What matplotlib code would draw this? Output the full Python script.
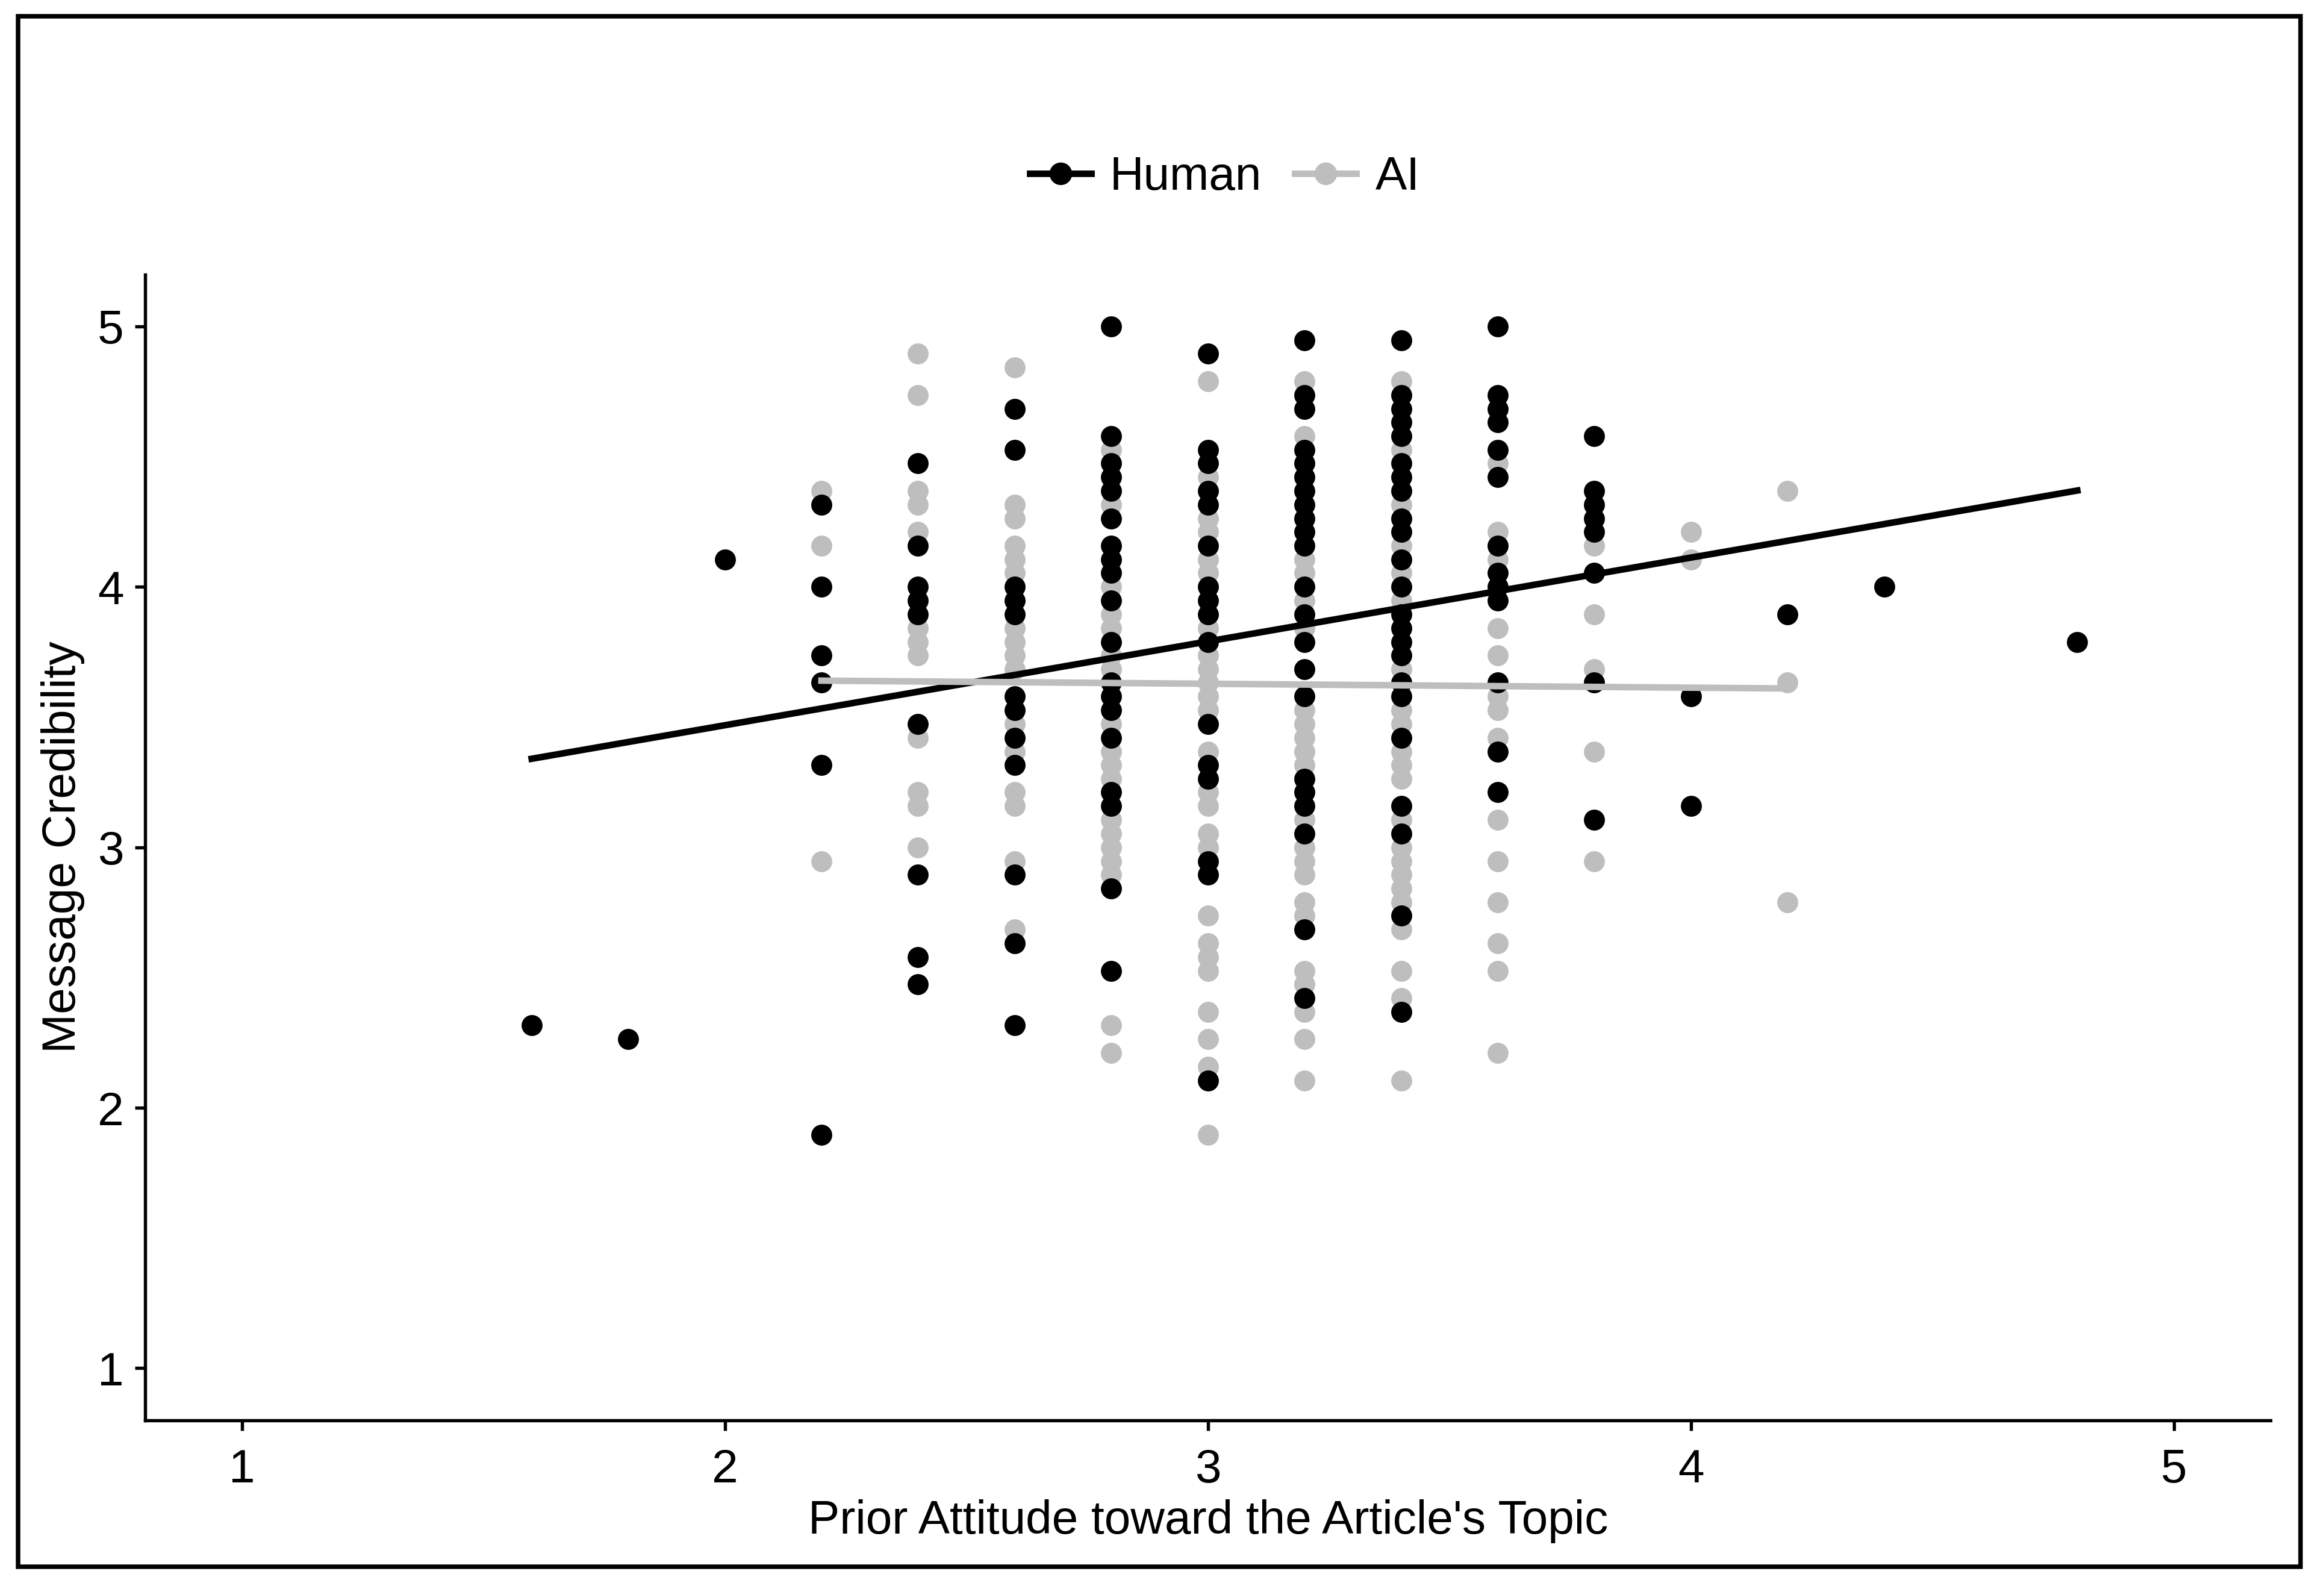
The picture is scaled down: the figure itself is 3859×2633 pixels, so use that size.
import matplotlib.pyplot as plt
from matplotlib.lines import Line2D
from matplotlib.patches import Rectangle

plt.rcParams['font.family'] = ['Liberation Sans', 'DejaVu Sans']

# Human condition: prior attitude (x) and message credibility (y)
human_x = [1.6, 1.8, 2.0,
           2.2, 2.2, 2.2, 2.2, 2.2, 2.2,
           2.4, 2.4, 2.4, 2.4, 2.4, 2.4, 2.4, 2.4, 2.4,
           2.6, 2.6, 2.6, 2.6, 2.6, 2.6, 2.6, 2.6, 2.6, 2.6, 2.6, 2.6,
           2.8, 2.8, 2.8, 2.8, 2.8, 2.8, 2.8, 2.8, 2.8, 2.8, 2.8, 2.8, 2.8, 2.8, 2.8, 2.8, 2.8, 2.8, 2.8,
           3.0, 3.0, 3.0, 3.0, 3.0, 3.0, 3.0, 3.0, 3.0, 3.0, 3.0, 3.0, 3.0, 3.0, 3.0, 3.0,
           3.2, 3.2, 3.2, 3.2, 3.2, 3.2, 3.2, 3.2, 3.2, 3.2, 3.2, 3.2, 3.2, 3.2, 3.2, 3.2, 3.2, 3.2, 3.2, 3.2, 3.2, 3.2,
           3.4, 3.4, 3.4, 3.4, 3.4, 3.4, 3.4, 3.4, 3.4, 3.4, 3.4, 3.4, 3.4, 3.4, 3.4, 3.4, 3.4, 3.4, 3.4, 3.4, 3.4, 3.4, 3.4,
           3.6, 3.6, 3.6, 3.6, 3.6, 3.6, 3.6, 3.6, 3.6, 3.6, 3.6, 3.6, 3.6,
           3.8, 3.8, 3.8, 3.8, 3.8, 3.8, 3.8, 3.8,
           4.0, 4.0, 4.2, 4.4, 4.8]
human_y = [2.316, 2.263, 4.105,
           4.316, 4.0, 3.737, 3.632, 3.316, 1.895,
           4.474, 4.158, 4.0, 3.947, 3.895, 3.474, 2.895, 2.579, 2.474,
           4.684, 4.526, 4.0, 3.947, 3.895, 3.579, 3.526, 3.421, 3.316, 2.895, 2.632, 2.316,
           5.0, 4.579, 4.474, 4.421, 4.368, 4.263, 4.158, 4.105, 4.053, 3.947, 3.789, 3.632, 3.579, 3.526, 3.421, 3.211, 3.158, 2.842, 2.526,
           4.895, 4.526, 4.474, 4.368, 4.316, 4.158, 4.0, 3.947, 3.895, 3.789, 3.474, 3.316, 3.263, 2.947, 2.895, 2.105,
           4.947, 4.737, 4.684, 4.526, 4.474, 4.421, 4.368, 4.316, 4.263, 4.211, 4.158, 4.0, 3.895, 3.789, 3.684, 3.579, 3.263, 3.211, 3.158, 3.053, 2.684, 2.421,
           4.947, 4.737, 4.684, 4.632, 4.579, 4.474, 4.421, 4.368, 4.263, 4.211, 4.105, 4.0, 3.895, 3.842, 3.789, 3.737, 3.632, 3.579, 3.421, 3.158, 3.053, 2.737, 2.368,
           5.0, 4.737, 4.684, 4.632, 4.526, 4.421, 4.158, 4.053, 4.0, 3.947, 3.632, 3.368, 3.211,
           4.579, 4.368, 4.316, 4.263, 4.211, 4.053, 3.632, 3.105,
           3.579, 3.158, 3.895, 4.0, 3.789]

# AI condition
ai_x = [2.2, 2.2, 2.2,
        2.4, 2.4, 2.4, 2.4, 2.4, 2.4, 2.4, 2.4, 2.4, 2.4, 2.4, 2.4,
        2.6, 2.6, 2.6, 2.6, 2.6, 2.6, 2.6, 2.6, 2.6, 2.6, 2.6, 2.6, 2.6, 2.6, 2.6, 2.6,
        2.8, 2.8, 2.8, 2.8, 2.8, 2.8, 2.8, 2.8, 2.8, 2.8, 2.8, 2.8, 2.8, 2.8, 2.8, 2.8, 2.8, 2.8,
        3.0, 3.0, 3.0, 3.0, 3.0, 3.0, 3.0, 3.0, 3.0, 3.0, 3.0, 3.0, 3.0, 3.0, 3.0, 3.0, 3.0, 3.0, 3.0, 3.0, 3.0, 3.0, 3.0, 3.0, 3.0,
        3.2, 3.2, 3.2, 3.2, 3.2, 3.2, 3.2, 3.2, 3.2, 3.2, 3.2, 3.2, 3.2, 3.2, 3.2, 3.2, 3.2, 3.2, 3.2, 3.2, 3.2, 3.2,
        3.4, 3.4, 3.4, 3.4, 3.4, 3.4, 3.4, 3.4, 3.4, 3.4, 3.4, 3.4, 3.4, 3.4, 3.4, 3.4, 3.4, 3.4, 3.4, 3.4, 3.4, 3.4,
        3.6, 3.6, 3.6, 3.6, 3.6, 3.6, 3.6, 3.6, 3.6, 3.6, 3.6, 3.6, 3.6, 3.6, 3.6,
        3.8, 3.8, 3.8, 3.8, 3.8, 3.8,
        4.0, 4.0,
        4.2, 4.2, 4.2]
ai_y = [4.368, 4.158, 2.947,
        4.895, 4.737, 4.368, 4.316, 4.211, 3.842, 3.789, 3.737, 3.421, 3.211, 3.158, 3.0,
        4.842, 4.316, 4.263, 4.158, 4.105, 4.053, 3.842, 3.789, 3.737, 3.684, 3.474, 3.368, 3.211, 3.158, 2.947, 2.684,
        4.526, 4.316, 4.0, 3.895, 3.842, 3.737, 3.684, 3.474, 3.368, 3.316, 3.263, 3.105, 3.053, 3.0, 2.947, 2.895, 2.316, 2.211,
        4.789, 4.421, 4.263, 4.211, 4.105, 4.053, 3.842, 3.737, 3.684, 3.632, 3.579, 3.526, 3.368, 3.211, 3.158, 3.053, 3.0, 2.737, 2.632, 2.579, 2.526, 2.368, 2.263, 2.158, 1.895,
        4.789, 4.579, 4.105, 4.053, 3.947, 3.842, 3.526, 3.474, 3.421, 3.368, 3.316, 3.105, 3.0, 2.947, 2.895, 2.789, 2.737, 2.526, 2.474, 2.368, 2.263, 2.105,
        4.789, 4.526, 4.316, 4.158, 4.053, 3.947, 3.684, 3.526, 3.474, 3.368, 3.316, 3.263, 3.105, 3.0, 2.947, 2.895, 2.842, 2.789, 2.684, 2.526, 2.421, 2.105,
        4.474, 4.211, 4.158, 4.105, 3.842, 3.737, 3.579, 3.526, 3.421, 3.105, 2.947, 2.789, 2.632, 2.526, 2.211,
        4.158, 3.895, 3.684, 3.632, 3.368, 2.947,
        4.211, 4.105,
        4.368, 3.632, 2.789]

# fitted regression lines (endpoints)
human_fit_x = [1.6, 4.8]
human_fit_y = [3.34, 4.37]
ai_fit_x = [2.2, 4.2]
ai_fit_y = [3.64, 3.61]

human_col = 'black'
ai_col = '#BEBEBE'
fs = 18.8

fig = plt.figure(figsize=(3859 / 300, 2633 / 300), dpi=300)
ax = fig.add_axes([0.0625, 0.1045, 0.9145, 0.7225])

ax.scatter(ai_x, ai_y, s=70, color=ai_col, linewidths=0, zorder=2)
ax.scatter(human_x, human_y, s=70, color=human_col, linewidths=0, zorder=3)
ax.plot(human_fit_x, human_fit_y, color=human_col, lw=2.6, zorder=4)
ax.plot(ai_fit_x, ai_fit_y, color=ai_col, lw=2.6, zorder=4)

ax.set_xlim(0.8, 5.2)
ax.set_ylim(0.8, 5.2)
ax.set_xticks([1, 2, 3, 4, 5])
ax.set_yticks([1, 2, 3, 4, 5])
for side in ['top', 'right']:
    ax.spines[side].set_visible(False)
for side in ['left', 'bottom']:
    ax.spines[side].set_linewidth(1.3)
ax.tick_params(labelsize=fs, width=1.3, length=4, color='black')
ax.tick_params(axis='x', pad=7)
ax.tick_params(axis='y', pad=4.5)
ax.set_xlabel("Prior Attitude toward the Article's Topic", fontsize=fs, labelpad=3)
ax.set_ylabel('Message Credibility', fontsize=fs, labelpad=5)

handles = [Line2D([], [], color=human_col, lw=2.6, marker='o', markersize=8),
           Line2D([], [], color=ai_col, lw=2.6, marker='o', markersize=8)]
fig.legend(handles, ['Human', 'AI'], loc='center', bbox_to_anchor=(0.527, 0.888),
           ncol=2, frameon=False, fontsize=fs, handlelength=1.3, handletextpad=0.4,
           columnspacing=0.7)

fig.patches.append(Rectangle((0.0078, 0.012), 0.982, 0.9776, transform=fig.transFigure,
                             fill=False, edgecolor='black', linewidth=1.8))

fig.savefig('out.png', dpi=300)
